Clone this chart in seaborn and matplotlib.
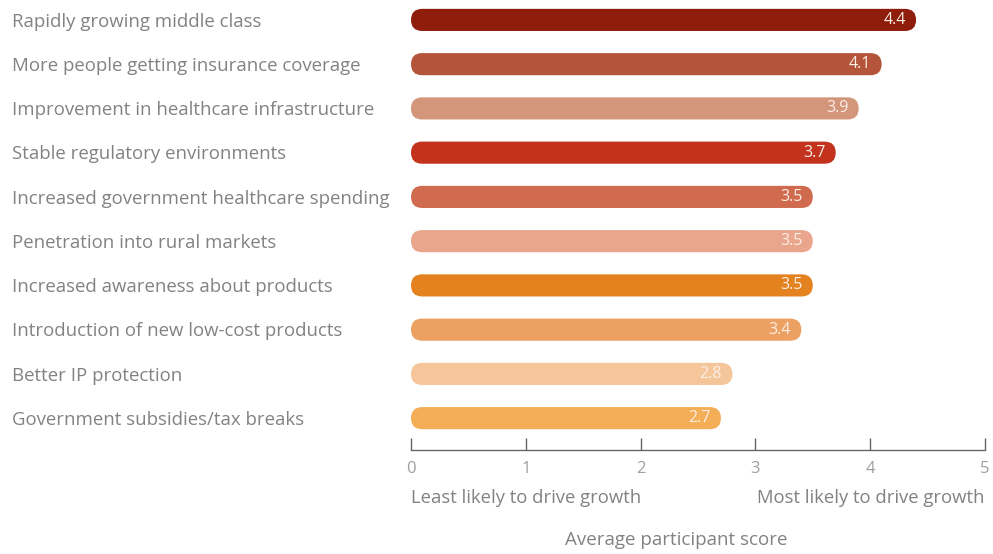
import matplotlib.pyplot as plt
import matplotlib.transforms as mtransforms
from matplotlib.patches import FancyBboxPatch
import seaborn as sns
import pandas as pd

# Data
drivers = [
    "Rapidly growing middle class",
    "More people getting insurance coverage",
    "Improvement in healthcare infrastructure",
    "Stable regulatory environments",
    "Increased government healthcare spending",
    "Penetration into rural markets",
    "Increased awareness about products",
    "Introduction of new low-cost products",
    "Better IP protection",
    "Government subsidies/tax breaks",
]
scores = [4.4, 4.1, 3.9, 3.7, 3.5, 3.5, 3.5, 3.4, 2.8, 2.7]
bar_colors = ["#8e1d0b", "#b4553b", "#d3967b", "#c3321d", "#d06b50",
              "#e9a68c", "#e4821f", "#eca062", "#f6c69b", "#f5ae58"]
xticks = [0, 1, 2, 3, 4, 5]

df = pd.DataFrame({"driver": drivers, "score": scores})

sns.set_theme(style="white")
plt.rcParams['font.family'] = ['Open Sans', 'DejaVu Sans']

fig = plt.figure(figsize=(9.93, 5.54), dpi=100)
ax = fig.add_axes([0.4139, 0.1877, 0.5780, 0.8123])

sns.barplot(data=df, y="driver", x="score", hue="driver", palette=bar_colors,
            orient="h", width=0.5, saturation=1, legend=False, ax=ax)

ax.set_xlim(0, 5)
ax.set_ylim(9.72, -0.45)

# swap plain rectangles for rounded bars
fig.canvas.draw()
px_per_x = ax.transData.transform((1, 0))[0] - ax.transData.transform((0, 0))[0]
px_per_y = abs(ax.transData.transform((0, 1))[1] - ax.transData.transform((0, 0))[1])
for p in list(ax.patches):
    x0, y0, w, h = p.get_x(), p.get_y(), p.get_width(), p.get_height()
    color = p.get_facecolor()
    p.remove()
    r_px = h * px_per_y / 2
    r_x = r_px / px_per_x
    aspect = (r_px / px_per_y) / r_x
    fb = FancyBboxPatch((x0, y0), w, h,
                        boxstyle=f"round,pad=0,rounding_size={r_x}",
                        mutation_aspect=aspect, facecolor=color,
                        edgecolor="none")
    ax.add_patch(fb)

# value labels inside bar ends
for i, v in enumerate(scores):
    ax.text(v - 0.09, i, f"{v}", ha="right", va="center", fontsize=11.5,
            color="#fbeee4")

# category labels, left-aligned at the figure edge
lab_tr = mtransforms.blended_transform_factory(fig.transFigure, ax.transData)
for i, d in enumerate(drivers):
    ax.text(0.012, i + 0.04, d, transform=lab_tr, ha="left", va="center",
            fontsize=13.4, color="#828282")
ax.set_yticks([])
ax.set_ylabel("")
ax.set_xlabel("")

ax.set_xticks(xticks)
ax.set_xticklabels([str(t) for t in xticks])
ax.tick_params(axis="x", direction="in", length=9, width=1, color="#666666",
               labelcolor="#a0a0a0", labelsize=12, pad=8, bottom=True)
for s in ["top", "right", "left"]:
    ax.spines[s].set_visible(False)
ax.spines["bottom"].set_color("#666666")
ax.spines["bottom"].set_linewidth(1)

ax_tr = mtransforms.blended_transform_factory(ax.transData, fig.transFigure)
ax.text(0, 1 - 498 / 554, "Least likely to drive growth", transform=ax_tr,
        ha="left", va="center", fontsize=13.3, color="#828282")
ax.text(5, 1 - 498 / 554, "Most likely to drive growth", transform=ax_tr,
        ha="right", va="center", fontsize=13.3, color="#828282")
ax.text(2.31, 1 - 540 / 554, "Average participant score", transform=ax_tr,
        ha="center", va="center", fontsize=13.5, color="#828282")

fig.savefig("out.png", dpi=100)
